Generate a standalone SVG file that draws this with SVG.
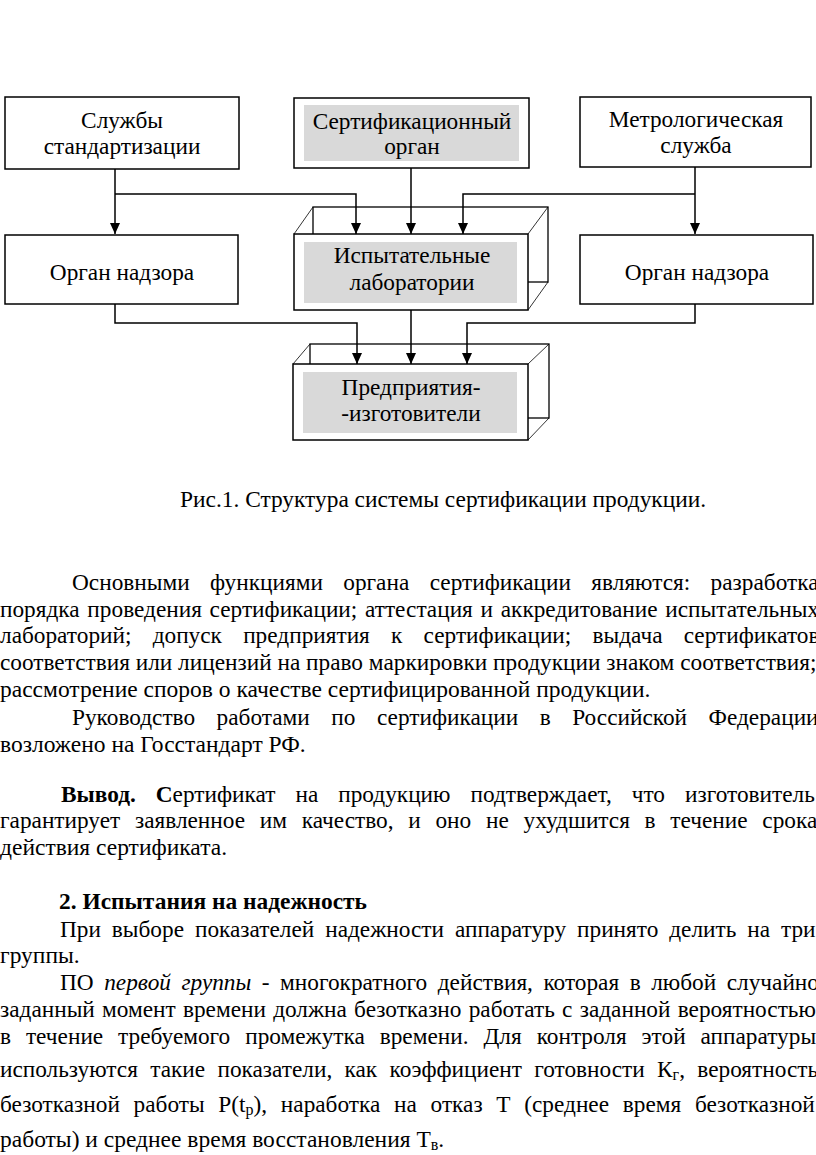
<svg xmlns="http://www.w3.org/2000/svg" width="816" height="1155" viewBox="0 0 816 1155">
<defs>
<marker id="ar" markerUnits="userSpaceOnUse" markerWidth="11" markerHeight="10" refX="11" refY="5" orient="auto" viewBox="0 0 11 10">
<path d="M0,0 L11,5 L0,10 z" fill="#000"/>
</marker>
</defs>
<rect width="816" height="1155" fill="#fff"/>

<g id="n1">
<rect x="5" y="97" width="234" height="72" fill="#fff" stroke="#000" stroke-width="1.5"/>
<text x="122" y="128" font-family="Liberation Serif" font-size="23.3" text-anchor="middle">Службы</text>
<text x="122" y="154" font-family="Liberation Serif" font-size="23.3" text-anchor="middle">стандартизации</text>
</g>
<g id="n2">
<rect x="294" y="98" width="235" height="70" fill="#fff" stroke="#000" stroke-width="1.5"/>
<rect x="304" y="105" width="215" height="56" fill="#d9d9d9"/>
<text x="412" y="129" font-family="Liberation Serif" font-size="23.3" text-anchor="middle">Сертификационный</text>
<text x="412" y="154" font-family="Liberation Serif" font-size="23.3" text-anchor="middle">орган</text>
</g>
<g id="n3">
<rect x="580" y="97" width="231" height="70" fill="#fff" stroke="#000" stroke-width="1.5"/>
<text x="696" y="127" font-family="Liberation Serif" font-size="23.3" text-anchor="middle">Метрологическая</text>
<text x="696" y="153" font-family="Liberation Serif" font-size="23.3" text-anchor="middle">служба</text>
</g>
<g id="n4">
<rect x="5" y="235" width="233" height="69" fill="#fff" stroke="#000" stroke-width="1.5"/>
<text x="122" y="280" font-family="Liberation Serif" font-size="23.3" text-anchor="middle">Орган надзора</text>
</g>
<g id="n5">
<rect x="313" y="207" width="235" height="75" fill="#fff" stroke="#000" stroke-width="1.3"/>
<path d="M294,234 L313,207 M528,234 L548,207 M528,310 L548,282" fill="none" stroke="#000" stroke-width="0.8"/>
<rect x="294" y="234" width="234" height="76" fill="#fff" stroke="#000" stroke-width="1.5"/>
<rect x="304" y="242" width="213" height="61" fill="#d9d9d9"/>
<text x="412" y="263" font-family="Liberation Serif" font-size="23.3" text-anchor="middle">Испытательные</text>
<text x="412" y="290" font-family="Liberation Serif" font-size="23.3" text-anchor="middle">лаборатории</text>
</g>
<g id="n6">
<rect x="580" y="235" width="233" height="69" fill="#fff" stroke="#000" stroke-width="1.5"/>
<text x="697" y="280" font-family="Liberation Serif" font-size="23.3" text-anchor="middle">Орган надзора</text>
</g>
<g id="n7">
<rect x="310" y="344" width="239" height="74" fill="#fff" stroke="#000" stroke-width="1.3"/>
<path d="M293,364 L310,344 M528,364 L549,344 M528,440 L549,418" fill="none" stroke="#000" stroke-width="0.8"/>
<rect x="293" y="364" width="235" height="76" fill="#fff" stroke="#000" stroke-width="1.5"/>
<rect x="303" y="372" width="214" height="61" fill="#d9d9d9"/>
<text x="411" y="395" font-family="Liberation Serif" font-size="23.3" text-anchor="middle">Предприятия-</text>
<text x="411" y="421" font-family="Liberation Serif" font-size="23.3" text-anchor="middle">-изготовители</text>
</g>

<g id="connectors" fill="none" stroke="#000" stroke-width="1.5">
<path d="M115,169 V234" marker-end="url(#ar)"/>
<path d="M115,194 H356 V234" marker-end="url(#ar)"/>
<path d="M411,168 V234" marker-end="url(#ar)"/>
<path d="M695,167 V234" marker-end="url(#ar)"/>
<path d="M695,194 H463 V234" marker-end="url(#ar)"/>
<path d="M115,304 V323 H357 V364" marker-end="url(#ar)"/>
<path d="M411,310 V364" marker-end="url(#ar)"/>
<path d="M695,304 V323 H467 V364" marker-end="url(#ar)"/>
</g>

<g id="body">
<text x="180" y="507" font-family="Liberation Serif" font-size="23.4">Рис.1. Структура системы сертификации продукции.</text>
<text x="72" y="590" font-family="Liberation Serif" font-size="23.3" word-spacing="14.6">Основными функциями органа сертификации являются: разработка</text>
<text x="0" y="617" font-family="Liberation Serif" font-size="23.3" word-spacing="1.9">порядка проведения сертификации; аттестация и аккредитование испытательных</text>
<text x="0" y="643" font-family="Liberation Serif" font-size="23.3" word-spacing="15.4">лабораторий; допуск предприятия к сертификации; выдача сертификатов</text>
<text x="0" y="670" font-family="Liberation Serif" font-size="23.3" word-spacing="0">соответствия или лицензий на право маркировки продукции знаком соответствия;</text>
<text x="0" y="697" font-family="Liberation Serif" font-size="23.5">рассмотрение споров о качестве сертифицированной продукции.</text>
<text x="72" y="725" font-family="Liberation Serif" font-size="23.3" word-spacing="15.7">Руководство работами по сертификации в Российской Федерации</text>
<text x="0" y="752" font-family="Liberation Serif" font-size="23.5">возложено на Госстандарт РФ.</text>
<text x="61" y="802" font-family="Liberation Serif" font-size="23.3" word-spacing="14.2"><tspan font-weight="bold">Вывод.</tspan> <tspan font-weight="bold">С</tspan>ертификат на продукцию подтверждает, что изготовитель</text>
<text x="0" y="828" font-family="Liberation Serif" font-size="23.3" word-spacing="8.9">гарантирует заявленное им качество, и оно не ухудшится в течение срока</text>
<text x="0" y="855" font-family="Liberation Serif" font-size="23.5">действия сертификата.</text>
<text x="59" y="909" font-family="Liberation Serif" font-size="23.3" font-weight="bold" textLength="308" lengthAdjust="spacingAndGlyphs">2. Испытания на надежность</text>
<text x="60" y="937" font-family="Liberation Serif" font-size="23.3" word-spacing="5.1">При выборе показателей надежности аппаратуру принято делить на три</text>
<text x="0" y="963" font-family="Liberation Serif" font-size="23.5">группы.</text>
<text x="60" y="990" font-family="Liberation Serif" font-size="23.3" word-spacing="4.7">ПО <tspan font-style="italic">первой группы</tspan> - многократного действия, которая в любой случайно</text>
<text x="0" y="1017" font-family="Liberation Serif" font-size="23.3" word-spacing="1.4">заданный момент времени должна безотказно работать с заданной вероятностью</text>
<text x="0" y="1044" font-family="Liberation Serif" font-size="23.3" word-spacing="9.1">в течение требуемого промежутка времени. Для контроля этой аппаратуры</text>
<text x="0" y="1077" font-family="Liberation Serif" font-size="23.3" word-spacing="6.5">используются такие показатели, как коэффициент готовности К<tspan font-size="16" dy="3">г</tspan><tspan dy="-3">, вероятность</tspan></text>
<text x="0" y="1112" font-family="Liberation Serif" font-size="23.3" word-spacing="7.9">безотказной работы Р(t<tspan font-size="16" dy="3">р</tspan><tspan dy="-3">), наработка на отказ Т (среднее время безотказной</tspan></text>
<text x="0" y="1147" font-family="Liberation Serif" font-size="23.5">работы) и среднее время восстановления Т<tspan font-size="16" dy="3">в</tspan><tspan dy="-3">.</tspan></text>
</g>
</svg>
